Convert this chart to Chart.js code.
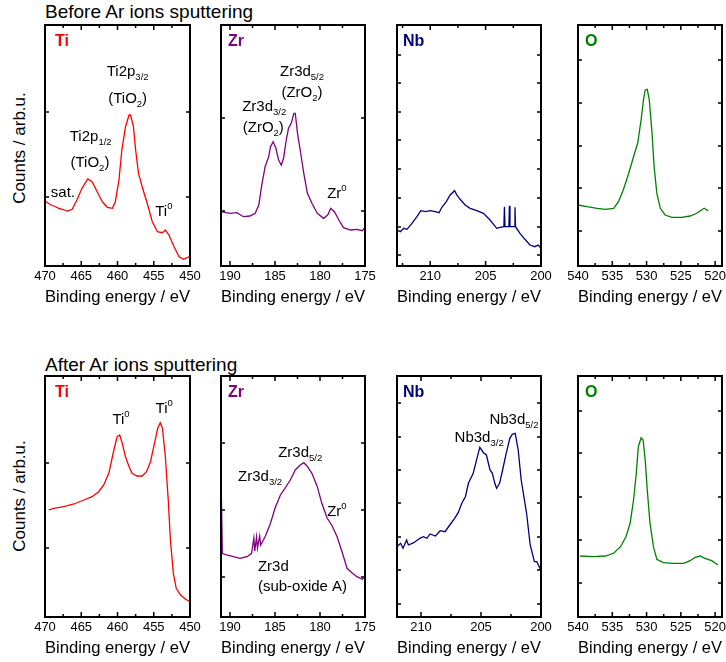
<!DOCTYPE html>
<html>
<head>
<meta charset="utf-8">
<script src="https://cdn.jsdelivr.net/npm/chart.js@4.4.0/dist/chart.umd.min.js"></script>
<style>
  html, body { margin: 0; padding: 0; background: #fff; overflow: hidden; }
  #wrap { position: relative; width: 726px; height: 662px; font-family: "Liberation Sans", Arial, sans-serif; color: #000; }
  .row-title { position: absolute; left: 45px; font-size: 19px; line-height: 20px; white-space: nowrap; }
  .y-title { position: absolute; left: 20px; width: 0; height: 0; }
  .y-title span { position: absolute; left: 0; top: 0; font-size: 17px; white-space: nowrap; transform: translate(-50%, -50%) rotate(-90deg); }
  canvas { position: absolute; }
</style>
</head>
<body>
<div id="wrap">
  <div class="row-title" style="top:2px">Before Ar ions sputtering</div>
  <div class="row-title" style="top:355px">After Ar ions sputtering</div>
  <div class="y-title" style="top:148px"><span>Counts / arb.u.</span></div>
  <div class="y-title" style="top:496px"><span>Counts / arb.u.</span></div>
</div>
<script>
// x tick labels (binding energy, eV)
const tiTicks = [470, 465, 460, 455, 450];
const zrTicks = [190, 185, 180, 175];
const nbTicks = [210, 205, 200];
const oTicks = [540, 535, 530, 525, 520];

// Before sputtering
const tiBeforeEnergy = [470.0, 469.2, 468.6, 468.1, 467.5, 466.9, 466.25, 465.6, 464.9, 464.1, 463.5, 462.8, 462.1, 461.4, 460.7, 460.3, 459.8, 459.4, 458.9, 458.4, 458.2, 457.8, 457.5, 457.1, 456.6, 455.9, 455.2, 454.5, 453.8, 453.4, 452.9, 452.2, 451.5, 450.9, 450.4, 450.0];
const tiBeforeCounts = [650, 610, 595, 577, 565, 550, 567, 660, 777, 870, 843, 743, 643, 587, 577, 643, 860, 1160, 1393, 1510, 1510, 1393, 1160, 927, 793, 627, 443, 343, 333, 360, 310, 193, 93, 67, 83, 100];

const zrBeforeEnergy = [191.0, 190.0, 189.25, 188.5, 187.8, 187.2, 186.8, 186.5, 186.1, 185.7, 185.5, 185.2, 184.9, 184.6, 184.3, 184.05, 183.75, 183.5, 183.2, 182.9, 182.75, 182.5, 182.2, 181.8, 181.4, 180.9, 180.3, 179.6, 179.15, 178.8, 178.4, 177.9, 177.4, 176.6, 175.9, 175.3, 175.0];
const zrBeforeCounts = [543, 527, 533, 493, 500, 527, 610, 793, 993, 1093, 1193, 1243, 1177, 1060, 1010, 1077, 1260, 1377, 1427, 1527, 1527, 1327, 1160, 927, 727, 627, 527, 477, 510, 577, 543, 460, 383, 360, 367, 353, 387];

const nbBeforeEnergy = [213.0, 212.7, 212.4, 212.1, 211.65, 211.2, 210.85, 210.45, 210.0, 209.55, 209.2, 208.95, 208.55, 208.2, 207.8, 207.6, 207.3, 206.85, 206.4, 205.8, 205.2, 204.6, 204.0, 203.7, 203.35, 203.3, 203.25, 202.9, 202.85, 202.8, 202.4, 202.35, 202.3, 201.9, 201.45, 201.0, 200.55, 200.25, 200.0];
const nbBeforeCounts = [360, 343, 377, 367, 427, 493, 553, 543, 553, 543, 533, 587, 643, 710, 753, 710, 667, 610, 577, 553, 527, 460, 377, 387, 393, 593, 393, 393, 603, 393, 393, 587, 393, 327, 267, 210, 193, 210, 177];

const oBeforeEnergy = [540.0, 538.7, 537.2, 536.0, 534.8, 534.1, 533.4, 532.6, 531.9, 531.3, 530.8, 530.45, 530.2, 529.9, 529.6, 529.2, 528.9, 528.5, 528.0, 527.3, 526.3, 524.9, 523.65, 522.7, 522.0, 521.6, 521.2, 521.0];
const oBeforeCounts = [610, 593, 577, 567, 577, 643, 760, 927, 1093, 1227, 1460, 1660, 1760, 1767, 1660, 1327, 993, 727, 577, 510, 487, 487, 500, 527, 560, 577, 560, 550];

// After sputtering
const tiAfterEnergy = [469.5, 468.8, 467.4, 466.0, 464.65, 463.5, 462.6, 461.9, 461.2, 460.5, 460.05, 459.7, 459.4, 458.9, 458.4, 458.0, 457.3, 456.6, 456.0, 455.45, 454.9, 454.45, 454.1, 453.8, 453.4, 453.0, 452.7, 452.3, 451.9, 451.3, 450.6, 450.0];
const tiAfterCounts = [1070, 1087, 1103, 1130, 1170, 1203, 1253, 1320, 1437, 1670, 1803, 1820, 1753, 1603, 1503, 1437, 1410, 1410, 1453, 1553, 1737, 1887, 1943, 1887, 1603, 1170, 770, 437, 287, 220, 177, 153];

const zrAfterEnergy = [190.95, 190.85, 190.4, 189.6, 188.9, 188.1, 187.6, 187.35, 187.25, 187.05, 186.95, 186.7, 186.6, 186.1, 185.5, 185.0, 184.4, 183.9, 183.3, 182.75, 182.2, 181.8, 181.45, 180.9, 180.3, 179.8, 179.2, 178.7, 178.1, 177.5, 177.0, 176.4, 175.9, 175.3, 175.0];
const zrAfterCounts = [1170, 637, 620, 603, 587, 603, 637, 790, 660, 800, 690, 810, 720, 803, 937, 1087, 1220, 1287, 1370, 1470, 1520, 1543, 1510, 1437, 1303, 1137, 987, 920, 803, 637, 487, 437, 403, 377, 397];

const nbAfterEnergy = [212.0, 211.7, 211.5, 211.2, 211.05, 210.6, 210.1, 209.8, 209.5, 209.25, 208.8, 208.4, 208.0, 207.6, 207.2, 206.9, 206.6, 206.3, 206.05, 205.65, 205.3, 205.1, 204.8, 204.55, 204.25, 204.05, 203.85, 203.7, 203.45, 203.2, 202.9, 202.6, 202.4, 202.15, 201.9, 201.65, 201.2, 200.9, 200.55, 200.35, 200.05];
const nbAfterCounts = [703, 737, 687, 770, 720, 743, 787, 803, 787, 830, 810, 863, 853, 920, 987, 1043, 1137, 1203, 1337, 1437, 1603, 1697, 1643, 1620, 1470, 1437, 1337, 1287, 1337, 1470, 1637, 1787, 1827, 1837, 1670, 1370, 1037, 720, 553, 553, 477];

const oAfterEnergy = [539.7, 537.7, 536.0, 534.8, 533.8, 533.0, 532.4, 531.9, 531.5, 531.2, 530.8, 530.5, 530.2, 529.9, 529.5, 529.0, 528.5, 527.55, 526.1, 524.6, 523.65, 522.9, 522.2, 521.5, 520.5, 519.8, 519.6];
const oAfterCounts = [610, 603, 610, 637, 703, 803, 937, 1170, 1437, 1703, 1793, 1770, 1570, 1270, 937, 703, 577, 543, 537, 537, 563, 597, 610, 587, 563, 530, 520];

// y tick marks (unlabelled)
const tiBeforeYTicks = [690, 1540];
const zrBeforeYTicks = [550, 1480];
const nbBeforeYTicks = [110, 390, 680, 970, 1260, 1540, 1830, 2110];
const oBeforeYTicks = [350, 780, 1200, 1630, 2060];
const tiAfterYTicks = [690, 1540];
const zrAfterYTicks = [400, 1070, 1740];
const nbAfterYTicks = [130, 470, 800, 1140, 1470, 1800, 2140];
const oAfterYTicks = [340, 770, 1200, 1640, 2060];

const FONT = "'Liberation Sans', Arial, sans-serif";
const ROW_TOP = [25, 376];
const PLOT_H = 241;
const PAD = 14;
const AXIS_H = 42;

const panels = [
  { row: 0, left: 45, width: 145, name: 'Ti', nameDx: 10, color: '#ff0000', energy: tiBeforeEnergy, counts: tiBeforeCounts, xMin: 450, xMax: 470, xMajor: tiTicks, yTicks: tiBeforeYTicks,
    notes: [
      { e: 458.6, c: 1940, align: 'center', parts: [['Ti2p', 'n'], ['3/2', 'sub']] },
      { e: 458.6, c: 1670, align: 'center', parts: [['(TiO', 'n'], ['2', 'sub'], [')', 'n']] },
      { e: 463.7, c: 1290, align: 'center', parts: [['Ti2p', 'n'], ['1/2', 'sub']] },
      { e: 463.8, c: 1030, align: 'center', parts: [['(TiO', 'n'], ['2', 'sub'], [')', 'n']] },
      { e: 469.2, c: 730, align: 'left', parts: [['sat.', 'n']] },
      { e: 454.8, c: 540, align: 'left', parts: [['Ti', 'n'], ['0', 'sup']] }
    ] },
  { row: 0, left: 221, width: 144, name: 'Zr', nameDx: 7, color: '#800080', energy: zrBeforeEnergy, counts: zrBeforeCounts, xMin: 175, xMax: 191, xMajor: zrTicks, yTicks: zrBeforeYTicks,
    notes: [
      { e: 182.0, c: 1940, align: 'center', parts: [['Zr3d', 'n'], ['5/2', 'sub']] },
      { e: 182.0, c: 1730, align: 'center', parts: [['(ZrO', 'n'], ['2', 'sub'], [')', 'n']] },
      { e: 186.2, c: 1590, align: 'center', parts: [['Zr3d', 'n'], ['3/2', 'sub']] },
      { e: 186.3, c: 1380, align: 'center', parts: [['(ZrO', 'n'], ['2', 'sub'], [')', 'n']] },
      { e: 179.2, c: 720, align: 'left', parts: [['Zr', 'n'], ['0', 'sup']] }
    ] },
  { row: 0, left: 397, width: 144, name: 'Nb', nameDx: 6, color: '#000080', energy: nbBeforeEnergy, counts: nbBeforeCounts, xMin: 200, xMax: 213, xMajor: nbTicks, yTicks: nbBeforeYTicks, notes: [] },
  { row: 0, left: 578, width: 144, name: 'O', nameDx: 7, color: '#008000', energy: oBeforeEnergy, counts: oBeforeCounts, xMin: 519, xMax: 540, xMajor: oTicks, yTicks: oBeforeYTicks, notes: [] },
  { row: 1, left: 45, width: 145, name: 'Ti', nameDx: 10, color: '#ff0000', energy: tiAfterEnergy, counts: tiAfterCounts, xMin: 450, xMax: 470, xMajor: tiTicks, yTicks: tiAfterYTicks,
    notes: [
      { e: 460.7, c: 1970, align: 'left', parts: [['Ti', 'n'], ['0', 'sup']] },
      { e: 454.75, c: 2080, align: 'left', parts: [['Ti', 'n'], ['0', 'sup']] }
    ] },
  { row: 1, left: 221, width: 144, name: 'Zr', nameDx: 7, color: '#800080', energy: zrAfterEnergy, counts: zrAfterCounts, xMin: 175, xMax: 191, xMajor: zrTicks, yTicks: zrAfterYTicks,
    notes: [
      { e: 184.65, c: 1640, align: 'left', parts: [['Zr3d', 'n'], ['5/2', 'sub']] },
      { e: 189.1, c: 1400, align: 'left', parts: [['Zr3d', 'n'], ['3/2', 'sub']] },
      { e: 179.2, c: 1050, align: 'left', parts: [['Zr', 'n'], ['0', 'sup']] },
      { e: 186.9, c: 500, align: 'left', parts: [['Zr3d', 'n']] },
      { e: 186.9, c: 300, align: 'left', parts: [['(sub-oxide A)', 'n']] }
    ] },
  { row: 1, left: 397, width: 144, name: 'Nb', nameDx: 6, color: '#000080', energy: nbAfterEnergy, counts: nbAfterCounts, xMin: 200, xMax: 212, xMajor: nbTicks, yTicks: nbAfterYTicks,
    notes: [
      { e: 207.2, c: 1790, align: 'left', parts: [['Nb3d', 'n'], ['3/2', 'sub']] },
      { e: 204.3, c: 1970, align: 'left', parts: [['Nb3d', 'n'], ['5/2', 'sub']] }
    ] },
  { row: 1, left: 578, width: 144, name: 'O', nameDx: 7, color: '#008000', energy: oAfterEnergy, counts: oAfterCounts, xMin: 519, xMax: 540, xMajor: oTicks, yTicks: oAfterYTicks, notes: [] }
];

// draws a label made of normal / subscript / superscript pieces
function drawRich(ctx, x, y, parts, align) {
  const fonts = { n: '15px ' + FONT, sub: '9.5px ' + FONT, sup: '9.5px ' + FONT };
  const shift = { n: 0, sub: 5, sup: -6 };
  let total = 0;
  parts.forEach(([t, k]) => { ctx.font = fonts[k]; total += ctx.measureText(t).width; });
  let cx = align === 'center' ? x - total / 2 : x;
  ctx.textAlign = 'left';
  ctx.textBaseline = 'middle';
  parts.forEach(([t, k]) => {
    ctx.font = fonts[k];
    ctx.fillText(t, cx, y + shift[k]);
    cx += ctx.measureText(t).width;
  });
}

const framePlugin = {
  id: 'frame',
  afterDatasetsDraw(chart, args, opts) {
    const { ctx, chartArea: a, scales: { x, y } } = chart;
    ctx.save();
    ctx.strokeStyle = '#000';
    ctx.lineWidth = 1.5;
    ctx.beginPath();
    const minor = [];
    opts.xMajor.forEach(v => {
      [v - 2.5, v + 2.5].forEach(m => {
        if (m > x.min && m < x.max && !minor.includes(m)) minor.push(m);
      });
    });
    opts.xMajor.forEach(v => {
      const px = x.getPixelForValue(v);
      ctx.moveTo(px, a.bottom); ctx.lineTo(px, a.bottom - 5);
      ctx.moveTo(px, a.top); ctx.lineTo(px, a.top + 5);
    });
    minor.forEach(v => {
      const px = x.getPixelForValue(v);
      ctx.moveTo(px, a.bottom); ctx.lineTo(px, a.bottom - 3);
      ctx.moveTo(px, a.top); ctx.lineTo(px, a.top + 3);
    });
    opts.yTicks.forEach(v => {
      const py = y.getPixelForValue(v);
      ctx.moveTo(a.left, py); ctx.lineTo(a.left + 4, py);
      ctx.moveTo(a.right, py); ctx.lineTo(a.right - 4, py);
    });
    ctx.stroke();
    ctx.lineWidth = 2;
    ctx.strokeRect(a.left, a.top, a.right - a.left, a.bottom - a.top);

    // element name
    ctx.fillStyle = opts.color;
    ctx.font = 'bold 16px ' + FONT;
    ctx.textAlign = 'left';
    ctx.textBaseline = 'middle';
    ctx.fillText(opts.name, a.left + opts.nameDx, a.top + 17);

    // peak labels
    ctx.fillStyle = '#000';
    opts.notes.forEach(n => {
      drawRich(ctx, x.getPixelForValue(n.e), y.getPixelForValue(n.c), n.parts, n.align);
    });
    ctx.restore();
  }
};

Chart.defaults.font.family = FONT;

const wrap = document.getElementById('wrap');
panels.forEach(p => {
  const canvas = document.createElement('canvas');
  const w = p.width + PAD * 2;
  const h = PLOT_H + 2 + AXIS_H;
  canvas.width = w;
  canvas.height = h;
  canvas.style.width = w + 'px';
  canvas.style.height = h + 'px';
  canvas.style.left = (p.left - PAD) + 'px';
  canvas.style.top = (ROW_TOP[p.row] - 2) + 'px';
  wrap.appendChild(canvas);

  new Chart(canvas, {
    type: 'line',
    data: {
      datasets: [{
        data: p.energy.map((e, i) => ({ x: e, y: p.counts[i] })),
        borderColor: p.color,
        borderWidth: 1.3,
        pointRadius: 0,
        tension: 0,
        fill: false
      }]
    },
    options: {
      responsive: false,
      animation: false,
      devicePixelRatio: 1,
      layout: { padding: { left: PAD, right: PAD, top: 2, bottom: 0 } },
      plugins: {
        legend: { display: false },
        tooltip: { enabled: false },
        frame: { xMajor: p.xMajor, yTicks: p.yTicks, color: p.color, name: p.name, nameDx: p.nameDx, notes: p.notes }
      },
      scales: {
        x: {
          type: 'linear',
          reverse: true,
          min: p.xMin,
          max: p.xMax,
          afterBuildTicks: s => { s.ticks = p.xMajor.map(v => ({ value: v })); },
          afterFit: s => { s.height = AXIS_H; s.paddingLeft = 0; s.paddingRight = 0; },
          grid: { display: false, drawTicks: false },
          border: { display: false },
          ticks: { color: '#000', font: { size: 13 }, padding: 3, maxRotation: 0, autoSkip: false },
          title: { display: true, text: 'Binding energy / eV', color: '#000', font: { size: 17 }, padding: 0 }
        },
        y: { display: false, min: 0, max: 2410 }
      }
    },
    plugins: [framePlugin]
  });
});
</script>
</body>
</html>
